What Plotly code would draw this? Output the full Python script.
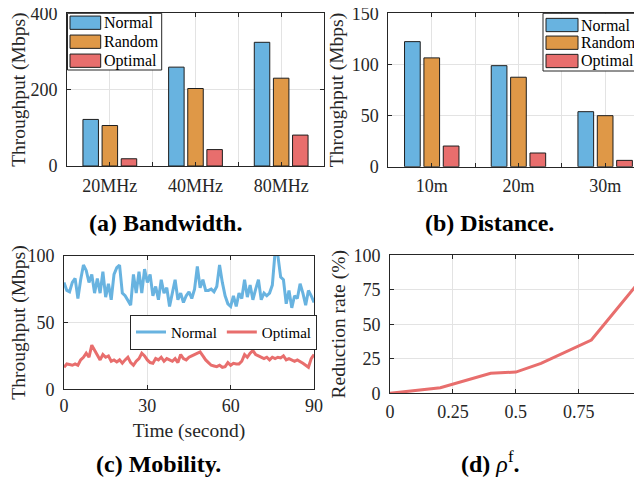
import plotly.graph_objects as go

# ---------------- data ----------------
series_names = ["Normal", "Random", "Optimal"]

bw_categories = ["20MHz", "40MHz", "80MHz"]
bw_normal = [122, 259, 324]
bw_random = [106, 203, 230]
bw_optimal = [19, 43, 81]

dist_categories = ["10m", "20m", "30m"]
dist_normal = [122.3, 98.8, 53.8]
dist_random = [106.4, 87.5, 49.9]
dist_optimal = [20.2, 13.4, 6.2]

time_s = list(range(0, 91))
mob_normal = [80, 74, 73, 80, 83, 68, 82, 93, 89, 80,
              86, 72, 83, 72, 88, 69, 79, 67, 86, 91,
              93, 72, 70, 66, 63, 86, 72, 88, 72, 90,
              80, 86, 70, 77, 67, 82, 72, 76, 62, 72,
              82, 67, 72, 65, 70, 73, 68, 75, 92, 76,
              82, 74, 74, 75, 73, 77, 93, 80, 70, 64,
              62, 70, 62, 72, 68, 82, 69, 78, 67, 75,
              82, 67, 72, 70, 72, 78, 103, 100, 84, 82,
              64, 74, 61, 70, 68, 79, 72, 63, 74, 70, 65]
mob_optimal = [16.5, 19, 18.5, 18, 19, 18, 22, 24, 27, 24,
               33, 29, 26, 22, 26, 24, 25, 21, 22, 20.5,
               22, 19.5, 22, 24, 20, 18, 21, 23, 27, 25,
               22, 20, 19.5, 23, 22, 24, 21, 23, 22, 21,
               23, 20, 26, 23, 22, 24, 25, 26, 27, 28,
               25, 22, 20, 18, 17.5, 17, 18, 16.5, 17, 20,
               18, 19.5, 19, 19, 21, 26, 24, 27, 29, 26,
               25, 24, 23, 24, 22, 24, 23, 24, 23.5, 25,
               22, 23, 22, 21, 22, 21, 19.5, 18, 16.5, 23, 26]

rho_f = [0, 0.2, 0.4, 0.5, 0.6, 0.8, 1.0]
reduction = [0, 4, 14.5, 15.4, 21.7, 38.6, 83.1]

# ---------------- style ----------------
PAGE_OFF = 8          # default body margin of the html page
W, H = 642 - 2 * PAGE_OFF, 486 - 2 * PAGE_OFF
FONT = "Liberation Serif"
INK = "#262626"
GRID = "#e3e3e3"
colors = {"Normal": "#68B3E0", "Random": "#DF9847", "Optimal": "#E86E6D"}


def px(x):
    return (x - PAGE_OFF) / W


def py(y):
    return 1 - (y - PAGE_OFF) / H


fig = go.Figure()

# (a) bandwidth bars
bw_x = list(range(len(bw_categories)))
for name, vals in zip(series_names, [bw_normal, bw_random, bw_optimal]):
    fig.add_trace(go.Bar(x=bw_x, y=vals, name=name, marker_color=colors[name],
                         marker_line=dict(color="#1e1e1e", width=1),
                         xaxis="x", yaxis="y", showlegend=False))

# (b) distance bars
dist_x = list(range(len(dist_categories)))
for name, vals in zip(series_names, [dist_normal, dist_random, dist_optimal]):
    fig.add_trace(go.Bar(x=dist_x, y=vals, name=name, marker_color=colors[name],
                         marker_line=dict(color="#1e1e1e", width=1),
                         xaxis="x2", yaxis="y2", showlegend=False))

# (c) mobility lines
fig.add_trace(go.Scatter(x=time_s, y=mob_normal, mode="lines", name="Normal",
                         line=dict(color=colors["Normal"], width=3),
                         xaxis="x3", yaxis="y3"))
fig.add_trace(go.Scatter(x=time_s, y=mob_optimal, mode="lines", name="Optimal",
                         line=dict(color=colors["Optimal"], width=3),
                         xaxis="x3", yaxis="y3"))

# (d) rho line
fig.add_trace(go.Scatter(x=rho_f, y=reduction, mode="lines", name="Reduction",
                         line=dict(color=colors["Optimal"], width=3),
                         xaxis="x4", yaxis="y4", showlegend=False))

tickfont = dict(family=FONT, size=18, color=INK)
titlefont = dict(family=FONT, size=19.5, color=INK)


def ax(**kw):
    d = dict(showline=True, linecolor=INK, linewidth=1, mirror="ticks",
             ticks="inside", ticklen=4, tickcolor=INK, showgrid=True,
             gridcolor=GRID, gridwidth=1, zeroline=False, tickfont=tickfont,
             title_font=titlefont, fixedrange=True, automargin=False,
             ticklabeloverflow="allow")
    d.update(kw)
    return d


minor_bounds = dict(tick0=-0.5, dtick=1, showgrid=True, gridcolor=GRID,
                    ticks="inside", ticklen=4, tickcolor=INK)

# the right-hand panels run past the window edge, as in the original
b_unit = 86.7
b_right = -0.5 + (642 - PAGE_OFF - 388.4) / b_unit
d_right = (642 - PAGE_OFF - 390) / 251.7

fig.update_layout(
    width=W, height=H,
    margin=dict(l=0, r=0, t=0, b=0),
    paper_bgcolor="white", plot_bgcolor="white",
    barmode="group", bargap=0.33, bargroupgap=0.19,
    xaxis=ax(domain=[px(67), px(324)], range=[-0.5, 2.5],
             tickvals=bw_x, ticktext=bw_categories, minor=minor_bounds,
             anchor="y", ticklabelstandoff=3),
    yaxis=ax(domain=[py(166), py(13.3)], range=[0, 400], tickvals=[0, 200, 400],
             anchor="x", title=dict(text="Throughput (Mbps)", standoff=9),
             ticklabelstandoff=5),
    xaxis2=ax(domain=[px(388.4), 1.0], range=[-0.5, b_right],
              tickvals=dist_x, ticktext=dist_categories, minor=minor_bounds,
              anchor="y2", ticklabelstandoff=3),
    yaxis2=ax(domain=[py(166.7), py(13.3)], range=[0, 150], mirror=False,
              tickvals=[0, 50, 100, 150], anchor="x2",
              title=dict(text="Throughput (Mbps)", standoff=2),
              ticklabelstandoff=5),
    xaxis3=ax(domain=[px(64), px(314)], range=[0, 90], tickvals=[0, 30, 60, 90],
              anchor="y3", title=dict(text="Time (second)", standoff=8),
              ticklabelstandoff=0),
    yaxis3=ax(domain=[py(389.3), py(255.7)], range=[0, 100],
              tickvals=[0, 50, 100], anchor="x3",
              title=dict(text="Throughput (Mbps)", standoff=9),
              ticklabelstandoff=5),
    xaxis4=ax(domain=[px(390), 1.0], range=[0, d_right],
              tickvals=[0, 0.25, 0.5, 0.75, 1], ticktext=["0", "0.25", "0.5", "0.75", "1"],
              anchor="y4", ticklabelstandoff=2),
    yaxis4=ax(domain=[py(393.3), py(255.3)], range=[0, 100], mirror=False,
              tickvals=[0, 25, 50, 75, 100], anchor="x4",
              title=dict(text="Reduction rate (%)", standoff=2),
              ticklabelstandoff=5),
    legend=dict(orientation="h", x=px(317), xanchor="right", y=py(314.7),
                yanchor="top", bgcolor="white", bordercolor=INK, borderwidth=1,
                font=dict(family=FONT, size=15, color="black"),
                itemwidth=30, tracegroupgap=0),
)

# manual legends for bar panels (wide swatches like the original)
shapes = []
annotations = []


def bar_legend(box, sw_x0, sw_x1, row_centers, text_x, sw_h=13.3):
    x0, y0, x1, y1 = box
    shapes.append(dict(type="rect", xref="paper", yref="paper",
                       x0=px(x0), x1=px(x1), y0=py(y1), y1=py(y0),
                       fillcolor="white", line=dict(color=INK, width=1), layer="above"))
    for name, yc in zip(series_names, row_centers):
        shapes.append(dict(type="rect", xref="paper", yref="paper",
                           x0=px(sw_x0), x1=px(sw_x1), y0=py(yc + sw_h / 2), y1=py(yc - sw_h / 2),
                           fillcolor=colors[name], line=dict(color="#1e1e1e", width=1),
                           layer="above"))
        annotations.append(dict(xref="paper", yref="paper", x=px(text_x), y=py(yc),
                                xanchor="left", yanchor="middle", showarrow=False,
                                text=name, font=dict(family=FONT, size=16, color="black")))


bar_legend((67.5, 13.3, 161.7, 70), 70, 100.7, [22.7, 41.7, 60.7], 102)
bar_legend((543, 13.3, 660, 71), 546, 578, [25, 42.7, 61], 579)

cap_font = dict(family=FONT, size=24, color="black")
for text, x, y in [("<b>(a) Bandwidth.</b>", 165, 223.5),
                   ("<b>(b) Distance.</b>", 489, 222.8),
                   ("<b>(c) Mobility.</b>", 158, 464),
                   ("<b>(d)</b> <i>ρ</i><sup>f</sup><b>.</b>", 490, 462)]:
    annotations.append(dict(xref="paper", yref="paper", x=px(x), y=py(y),
                            xanchor="center", yanchor="middle", showarrow=False,
                            text=text, font=cap_font))

fig.update_layout(shapes=shapes, annotations=annotations)

fig.write_html("out.html")
